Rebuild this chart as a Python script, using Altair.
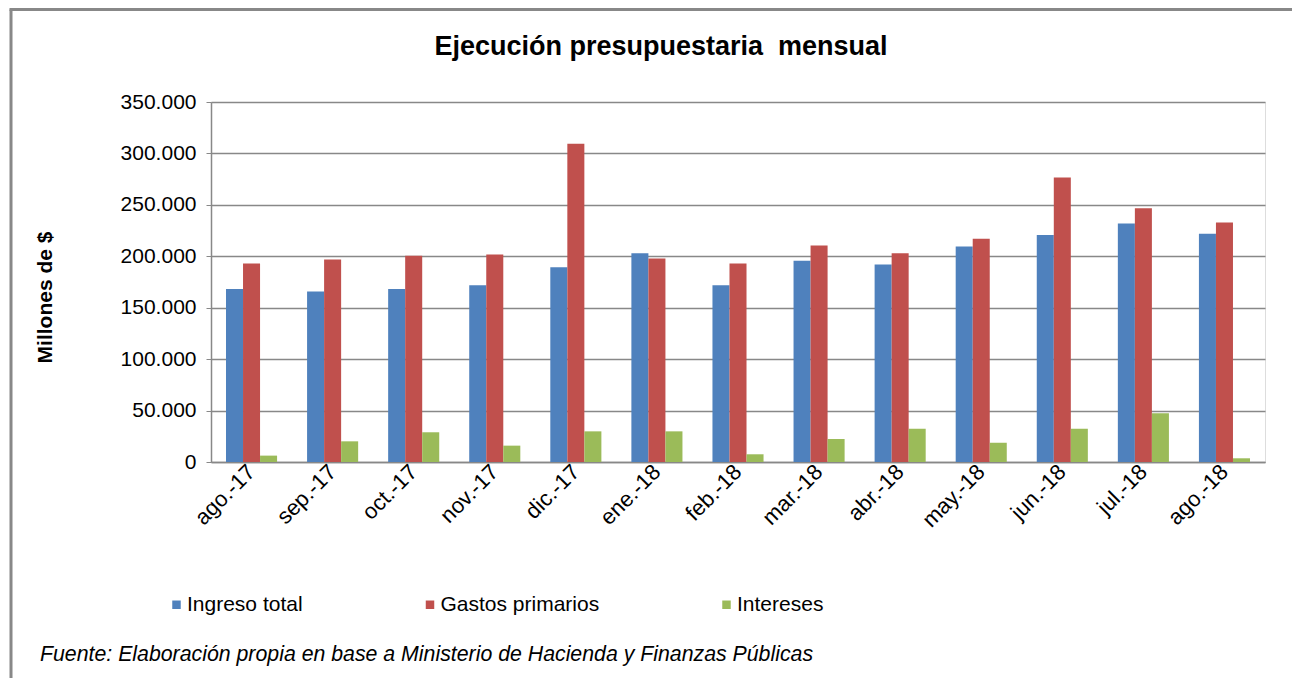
import altair as alt
import pandas as pd

months = ["ago.-17", "sep.-17", "oct.-17", "nov.-17", "dic.-17", "ene.-18", "feb.-18",
          "mar.-18", "abr.-18", "may.-18", "jun.-18", "jul.-18", "ago.-18"]
series = ["Ingreso total", "Gastos primarios", "Intereses"]
ingreso = [168300, 165700, 168300, 171900, 189400, 203000, 171900,
           195600, 192000, 209500, 220600, 231900, 221900]
gastos = [193000, 196900, 200500, 201800, 309400, 197900, 193000,
          210500, 203000, 217000, 276700, 246800, 232900]
intereses = [6200, 20100, 28900, 15900, 29800, 29800, 7500,
             22400, 32400, 18800, 32400, 47400, 3600]
colors = ["#4F81BD", "#C0504D", "#9BBB59"]
y_ticks = [0, 50000, 100000, 150000, 200000, 250000, 300000, 350000]

title = "Ejecución presupuestaria\u00a0 mensual"
y_title = "Millones de $"
footnote = "Fuente: Elaboración propia en base a Ministerio de Hacienda y Finanzas Públicas"

rows = []
for i, m in enumerate(months):
    for s, vals in zip(series, [ingreso, gastos, intereses]):
        rows.append({"mes": m, "idx": i, "serie": s, "valor": vals[i]})
df = pd.DataFrame(rows)

FONT = "Liberation Sans"
PW, PH = 1054, 360

bars = alt.Chart(df).mark_bar().encode(
    x=alt.X("mes:N", sort=months,
            scale=alt.Scale(paddingInner=0.37, paddingOuter=0.185),
            axis=alt.Axis(title=None, labelAngle=-45, labelAlign="right",
                          labelBaseline="middle", labelPadding=6, ticks=False,
                          labelFont=FONT, labelFontSize=22, labelColor="#000000",
                          labelOverlap=False, domainColor="#888888", domainWidth=1.5,
                          grid=False)),
    xOffset=alt.XOffset("serie:N", sort=series, scale=alt.Scale(paddingInner=0, paddingOuter=0)),
    y=alt.Y("valor:Q", scale=alt.Scale(domain=[0, 350000], nice=False),
            axis=alt.Axis(title=y_title, values=y_ticks,
                          labelExpr="replace(format(datum.value, ',.0f'), /,/g, '.')",
                          labelFont=FONT, labelFontSize=21, labelColor="#000000",
                          labelPadding=10, tickSize=5, tickColor="#888888",
                          domainColor="#888888", domainWidth=1.5,
                          gridColor="#888888", gridWidth=1.3,
                          titleFont=FONT, titleFontSize=21, titleFontWeight="bold",
                          titleColor="#000000", titleAngle=-90, titleX=-166, titleY=195,
                          titleAlign="center", titleBaseline="middle")),
    color=alt.Color("serie:N", sort=series,
                    scale=alt.Scale(domain=series, range=colors),
                    legend=alt.Legend(title=None, orient="none", direction="horizontal",
                                      columns=3, legendX=-45, legendY=492,
                                      symbolType="square", symbolSize=72,
                                      symbolStrokeWidth=0, labelOffset=0,
                                      columnPadding=116.5,
                                      labelFont=FONT, labelFontSize=21,
                                      labelColor="#000000")),
)

head = alt.Chart(pd.DataFrame({"t": [title]})).mark_text(
    font=FONT, fontSize=27, fontWeight="bold", align="center", baseline="middle",
    color="#000000").encode(text="t:N", x=alt.value(450), y=alt.value(-55))

foot = alt.Chart(pd.DataFrame({"t": [footnote]})).mark_text(
    font=FONT, fontSize=21.3, fontStyle="italic", align="left", baseline="middle",
    color="#000000").encode(text="t:N", x=alt.value(-171), y=alt.value(553))

border_left = alt.Chart(pd.DataFrame({"a": [0]})).mark_rule(
    color="#888888", strokeWidth=3, clip=False).encode(
    x=alt.value(-200), y=alt.value(-92.5), y2=alt.value(600))
border_top = alt.Chart(pd.DataFrame({"a": [0]})).mark_rule(
    color="#888888", strokeWidth=3, clip=False).encode(
    x=alt.value(-201.5), x2=alt.value(1081), y=alt.value(-92.5))

chart = alt.layer(bars, head, foot, border_left, border_top).properties(
    width=PW, height=PH,
    autosize=alt.AutoSizeParams(type="none"),
    padding={"left": 203, "top": 94, "right": 27, "bottom": 216},
).configure_view(stroke=None).configure(background="white")

chart.save("out.html", embed_options={"renderer": "svg", "actions": False})
